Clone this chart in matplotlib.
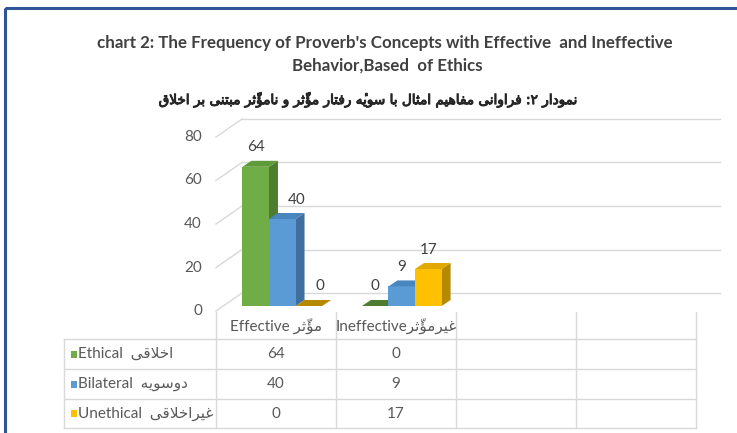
import matplotlib
matplotlib.use("Agg")
import matplotlib.pyplot as plt
from matplotlib import font_manager
from matplotlib.patches import Polygon, Rectangle
from matplotlib.lines import Line2D
import matplotlib.transforms as mtransforms
import matplotlib.patheffects as pe

# ---------------- data ----------------
categories_en = ["Effective", "Ineffective", "", ""]
categories_fa = ["مؤثّر", "غیرمؤثّر", "", ""]
series_en = ["Ethical", "Bilateral", "Unethical"]
series_fa = ["اخلاقی", "دوسویه", "غیراخلاقی"]
ethical = [64, 0, None, None]
bilateral = [40, 9, None, None]
unethical = [0, 17, None, None]
y_ticks = [0, 20, 40, 60, 80]
title_en_1 = "chart 2: The Frequency of Proverb's Concepts with Effective  and Ineffective"
title_en_2 = "Behavior,Based  of Ethics"
title_fa = "نمودار ۲: فراوانی مفاهیم امثال با سویهٔ رفتار مؤثّر و نامؤثّر مبتنی بر اخلاق"

# ------------- simple Persian shaper (presentation forms, visual order) -------------
AR = {
    '\u0627': ('\uFE8D', '\uFE8E', None, None),
    '\u0628': ('\uFE8F', '\uFE90', '\uFE91', '\uFE92'),
    '\u062A': ('\uFE95', '\uFE96', '\uFE97', '\uFE98'),
    '\u062B': ('\uFE99', '\uFE9A', '\uFE9B', '\uFE9C'),
    '\u062E': ('\uFEA5', '\uFEA6', '\uFEA7', '\uFEA8'),
    '\u062F': ('\uFEA9', '\uFEAA', None, None),
    '\u0631': ('\uFEAD', '\uFEAE', None, None),
    '\u0633': ('\uFEB1', '\uFEB2', '\uFEB3', '\uFEB4'),
    '\u063A': ('\uFECD', '\uFECE', '\uFECF', '\uFED0'),
    '\u0641': ('\uFED1', '\uFED2', '\uFED3', '\uFED4'),
    '\u0642': ('\uFED5', '\uFED6', '\uFED7', '\uFED8'),
    '\u0644': ('\uFEDD', '\uFEDE', '\uFEDF', '\uFEE0'),
    '\u0645': ('\uFEE1', '\uFEE2', '\uFEE3', '\uFEE4'),
    '\u0646': ('\uFEE5', '\uFEE6', '\uFEE7', '\uFEE8'),
    '\u0647': ('\uFEE9', '\uFEEA', '\uFEEB', '\uFEEC'),
    '\u0648': ('\uFEED', '\uFEEE', None, None),
    '\u0624': ('\uFE85', '\uFE86', None, None),
    '\u06CC': ('\uFEEF', '\uFEF0', '\uFEF3', '\uFEF4'),
}
MARKS = {'\u0651', '\u0654', '\u064E', '\u064F', '\u0650'}


def shape(s):
    ch = list(s)
    n = len(ch)

    def prev_joins(idx):
        j = idx - 1
        while j >= 0 and ch[j] in MARKS:
            j -= 1
        return j >= 0 and ch[j] in AR and AR[ch[j]][2] is not None

    def next_idx(idx):
        j = idx + 1
        while j < n and ch[j] in MARKS:
            j += 1
        return j if j < n else None

    out = []
    i = 0
    while i < n:
        c = ch[i]
        if c in AR:
            p = prev_joins(i)
            j = next_idx(i)
            if c == '\u0644' and j is not None and ch[j] == '\u0627':
                cl = '\uFEFC' if p else '\uFEFB'
                i = j + 1
            else:
                nx = j is not None and ch[j] in AR and AR[c][2] is not None
                iso, fin, ini, med = AR[c]
                cl = med if (p and nx) else fin if p else ini if nx else iso
                i += 1
            while i < n and ch[i] in MARKS:
                cl += ch[i]
                i += 1
            out.append(cl)
        else:
            out.append(c)
            i += 1
    return ''.join(reversed(out))


# ---------------- fonts ----------------
names = {f.name for f in font_manager.fontManager.ttflist}
LAT = 'Lato' if 'Lato' in names else 'Liberation Sans'
FAM = [LAT, 'DejaVu Sans']
plt.rcParams['font.family'] = FAM

W, H = 737, 433
fig = plt.figure(figsize=(W / 100, H / 100), dpi=100)
fig.patch.set_facecolor('white')
PX = mtransforms.Affine2D().scale(1, -1).translate(0, H)  # pixel coords, origin top-left

TXT = '#404040'
LBL = '#595959'
GRID = '#D9D9D9'

# frame
fig.add_artist(Rectangle((5, 8), 740, 440, transform=PX, fill=False,
                         edgecolor='#2F5597', linewidth=2.2, clip_on=False))

# titles
fig.text(385, 43, title_en_1, transform=PX, ha='center', va='center',
         fontsize=12.2, fontweight='bold', color=TXT)
fig.text(387, 66, title_en_2, transform=PX, ha='center', va='center',
         fontsize=12.2, fontweight='bold', color=TXT)
fig.text(369, 100, shape(title_fa), transform=PX, ha='center', va='center',
         fontsize=9.8, color='#262626', family=['DejaVu Sans'],
         path_effects=[pe.withStroke(linewidth=0.7, foreground='#262626')])

# ---------------- axes (back wall) ----------------
WALL_L, WALL_R, WALL_B, WALL_T = 242, 720, 293, 119
ax = fig.add_axes([WALL_L / W, (H - WALL_B) / H, (WALL_R - WALL_L) / W, (WALL_B - WALL_T) / H])
ncat = len(categories_en)
ax.set_xlim(0, ncat)
ax.set_ylim(y_ticks[0], y_ticks[-1])
ax.set_axis_off()

ux = (WALL_R - WALL_L) / ncat            # px per category
uy = (WALL_B - WALL_T) / (y_ticks[-1] - y_ticks[0])  # px per unit


def off(dx_px, dy_px):
    """pixel offset (right, down) -> data offset"""
    return dx_px / ux, -dy_px / uy


FLOOR = off(-26, 18)      # front edge of floor relative to back wall
FRONT = off(-19.5, 13)    # front face of bars
BACK = off(-10.5, 7)      # back face of bars

for v in y_ticks:
    ax.add_line(Line2D([0, ncat], [v, v], color=GRID, lw=1.0, clip_on=False, zorder=1))
    ax.add_line(Line2D([0, FLOOR[0]], [v, v + FLOOR[1]], color=GRID, lw=1.0,
                       clip_on=False, zorder=1))
    ax.text(FLOOR[0], v + FLOOR[1], str(v), ha='right', va='center', fontsize=11,
            color=LBL, transform=ax.transData + mtransforms.ScaledTranslation(-0.14, 0, fig.dpi_scale_trans))

series = [ethical, bilateral, unethical]
front_c = ['#70AD47', '#5B9BD5', '#FFC000']
top_c = ['#5E9A38', '#4A86BE', '#E0A800']
side_c = ['#4E7D30', '#3E6F9E', '#B58900']
gap = 1.5
bw = 1.0 / (len(series) + gap)
start = gap * bw / 2

for ci in range(ncat):
    prev_right = None
    prev_top = None
    for si, vals in enumerate(series):
        v = vals[ci]
        if v is None:
            continue
        x0 = ci + start + si * bw
        x1 = x0 + bw
        F = lambda x, y: (x + FRONT[0], y + FRONT[1])
        B = lambda x, y: (x + BACK[0], y + BACK[1])
        z = 3 + si
        ax.add_patch(Polygon([F(x1, 0), F(x1, v), B(x1, v), B(x1, 0)], closed=True,
                             facecolor=side_c[si], edgecolor='none', clip_on=False, zorder=z))
        if v > 0:
            ax.add_patch(Polygon([F(x0, 0), F(x1, 0), F(x1, v), F(x0, v)], closed=True,
                                 facecolor=front_c[si], edgecolor='none', clip_on=False, zorder=z))
        ax.add_patch(Polygon([F(x0, v), F(x1, v), B(x1, v), B(x0, v)], closed=True,
                             facecolor=top_c[si] if v > 0 else side_c[si], edgecolor='none',
                             clip_on=False, zorder=z))
        cx, cy = F((x0 + x1) / 2, v)
        shift_px = 0.0
        half_w = 4.0 * len(str(v))
        if prev_right is not None and prev_top is not None and prev_top > v:
            need = prev_right + 11 + half_w - ((x0 + x1) / 2 + FRONT[0]) * ux
            shift_px = max(0.0, need)
        ax.text(cx, cy, str(v), ha='center', va='center', fontsize=11, color=TXT,
                clip_on=False, zorder=10,
                transform=ax.transData + mtransforms.ScaledTranslation(shift_px / 100, 19.5 / 100, fig.dpi_scale_trans))
        prev_right = (x1 + BACK[0]) * ux
        prev_top = v

# ---------------- data table ----------------
col_x = [216 + 120 * i for i in range(ncat + 1)]
row_y = [339, 369, 399, 428]
head_top = 312
tbl_left = 64
for x in col_x:
    fig.add_artist(Line2D([x, x], [head_top, row_y[-1]], transform=PX, color=GRID, lw=1.0))
fig.add_artist(Line2D([tbl_left, tbl_left], [row_y[0], row_y[-1]], transform=PX, color=GRID, lw=1.0))
for y in row_y:
    fig.add_artist(Line2D([tbl_left, col_x[-1]], [y, y], transform=PX, color=GRID, lw=1.0))

for ci in range(ncat):
    cxm = (col_x[ci] + col_x[ci + 1]) / 2
    if categories_en[ci]:
        sep = ' ' if ci == 0 else ''
        fig.text(cxm, 326, categories_en[ci] + sep + shape(categories_fa[ci]), transform=PX,
                 ha='center', va='center', fontsize=11, color=LBL)
    for si, vals in enumerate(series):
        if vals[ci] is not None:
            fig.text(cxm, (row_y[si] + row_y[si + 1]) / 2, str(vals[ci]), transform=PX,
                     ha='center', va='center', fontsize=11, color=LBL)

for si in range(len(series)):
    ym = (row_y[si] + row_y[si + 1]) / 2
    fig.add_artist(Rectangle((70.5, ym - 3.5), 6, 7, transform=PX, facecolor=front_c[si],
                             edgecolor='none'))
    fig.text(78, ym, series_en[si] + '  ' + shape(series_fa[si]), transform=PX,
             ha='left', va='center', fontsize=11, color=LBL)

fig.savefig('out.png', dpi=100, facecolor='white')
